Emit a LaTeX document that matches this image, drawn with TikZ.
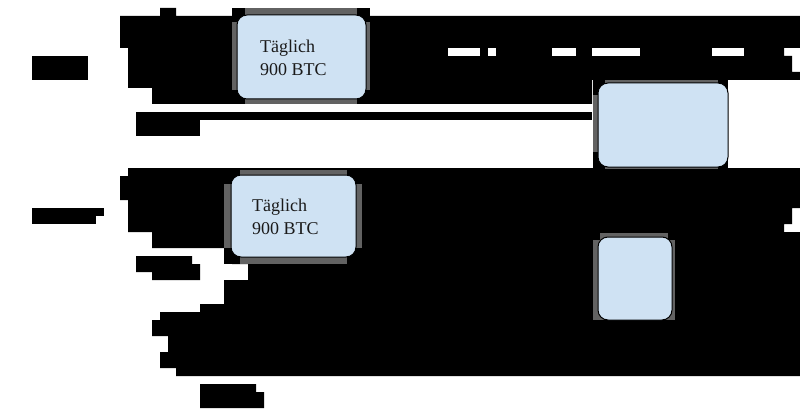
\documentclass[tikz,border=0pt]{standalone}
\usepackage{fontspec}
\setmainfont{Liberation Serif}
\definecolor{boxblue}{HTML}{CFE2F3}
\definecolor{shgray}{HTML}{626262}
\definecolor{txt}{HTML}{1A1A1A}
\tikzset{
  blk/.style={fill=black, draw=none},
  gap/.style={fill=white, draw=none},
  bx/.style={draw=black, line width=1pt, fill=boxblue, rounded corners=10pt, inner sep=0pt},
  lbl/.style={anchor=base west, inner sep=0pt, text=txt, font=\fontsize{18}{23}\selectfont},
}
\begin{document}
\begin{tikzpicture}[x=1pt,y=-1pt]
\useasboundingbox[fill=white] (0,0) rectangle (800,417);
% top band
\fill[blk] (160,8) -- (176,8) -- (176,16) -- (800,16) -- (800,48) -- (784,48) -- (784,56)
  -- (792,56) -- (792,72) -- (800,72) -- (800,80) -- (592,80) -- (592,104) -- (152,104)
  -- (152,88) -- (128,88) -- (128,48) -- (120,48) -- (120,16) -- (160,16) -- cycle;
% white dashes in top band
\fill[gap] (448,48) rectangle (480,56);
\fill[gap] (488,48) rectangle (496,56);
\fill[gap] (552,48) rectangle (576,56);
\fill[gap] (592,48) rectangle (640,56);
\fill[gap] (712,48) rectangle (744,56);
% middle band
\fill[blk] (128,168) -- (800,168) -- (800,208) -- (792,208) -- (792,224) -- (784,224) -- (784,232)
  -- (800,232) -- (800,376) -- (176,376) -- (176,368) -- (160,368) -- (160,352) -- (168,352)
  -- (168,336) -- (152,336) -- (152,320) -- (160,320) -- (160,312) -- (200,312) -- (200,304)
  -- (224,304) -- (224,280) -- (248,280) -- (248,264) -- (232,264) -- (232,256) -- (224,256)
  -- (224,248) -- (152,248) -- (152,232) -- (128,232) -- (128,200) -- (120,200) -- (120,176)
  -- (128,176) -- cycle;
% small blocks
\fill[blk] (32,56) rectangle (88,80);
\fill[blk] (136,112) rectangle (200,136);
\fill[blk] (200,112) rectangle (592,120);
\fill[blk] (32,208) rectangle (104,216);
\fill[blk] (32,216) rectangle (96,224);
\fill[blk] (136,256) -- (192,256) -- (192,264) -- (200,264) -- (200,280) -- (152,280) -- (152,272) -- (136,272) -- cycle;
\fill[blk] (200,384) -- (256,384) -- (256,392) -- (264,392) -- (264,408) -- (200,408) -- cycle;
% box surrounds (gray edges, black corners)
\fill[blk] (232,8) rectangle (370,104);
\fill[shgray] (245,8) rectangle (357,104);
\fill[shgray] (232,22) rectangle (370,90);
\fill[blk] (224,170) rectangle (362,264);
\fill[shgray] (240,170) rectangle (347,264);
\fill[shgray] (224,184) rectangle (362,248);
\fill[blk] (593,80) rectangle (728,169);
\fill[shgray] (605,80) rectangle (718,169);
\fill[shgray] (593,95) rectangle (728,152);
\fill[shgray] (593,233) rectangle (675,320);
\fill[blk] (593,233) rectangle (600,240);
\fill[blk] (668,233) rectangle (675,240);
% boxes
\node[bx, minimum width=129pt, minimum height=84pt] (b1) at (301.5,57) {};
\node[bx, minimum width=125pt, minimum height=82pt] (b2) at (293.5,216) {};
\node[bx, minimum width=130pt, minimum height=84pt] (b3) at (663,125) {};
\node[bx, minimum width=74pt, minimum height=83pt] (b4) at (635,278.5) {};
% texts
\node[lbl] (t1a) at (260,52.3) {Täglich};
\node[lbl] (t1b) at (260,75.3) {900 BTC};
\node[lbl] (t2a) at (252,211) {Täglich};
\node[lbl] (t2b) at (252,234) {900 BTC};
\end{tikzpicture}
\end{document}
